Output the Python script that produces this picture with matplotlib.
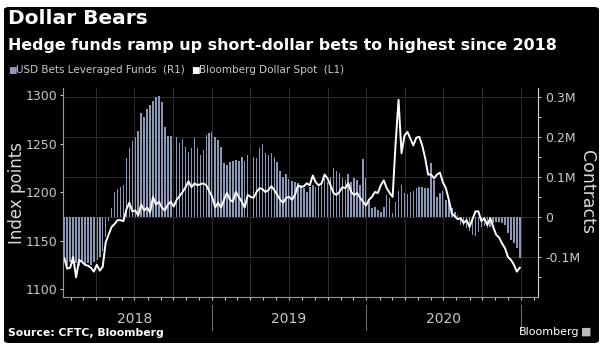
import pandas as pd
import matplotlib
matplotlib.use('Agg')
import matplotlib.pyplot as plt
import matplotlib.dates as mdates
import matplotlib.transforms as mtransforms
from matplotlib.patches import FancyBboxPatch
from matplotlib.ticker import FixedLocator, FuncFormatter

# weekly CFTC positioning, million contracts (R1)
first_week = '2018-01-16'
usd_bets = [
    -0.110, -0.120, -0.112, -0.118, -0.115, -0.122, -0.110, -0.118, -0.115, -0.120,
    -0.112, -0.108, -0.100, -0.085, -0.050, -0.010, 0.022, 0.062, 0.070, 0.075,
    0.080, 0.148, 0.172, 0.190, 0.200, 0.215, 0.260, 0.250, 0.270, 0.280,
    0.290, 0.300, 0.302, 0.288, 0.225, 0.203, 0.203, 0.203, 0.200, 0.185,
    0.195, 0.175, 0.163, 0.172, 0.198, 0.172, 0.155, 0.168, 0.205, 0.210,
    0.213, 0.200, 0.193, 0.175, 0.135, 0.130, 0.138, 0.140, 0.143, 0.140,
    0.150, 0.140, 0.155, 0.143, 0.150, 0.148, 0.172, 0.182, 0.160, 0.155,
    0.160, 0.150, 0.138, 0.115, 0.100, 0.107, 0.095, 0.090, 0.087, 0.085,
    0.080, 0.072, 0.063, 0.075, 0.080, 0.075, 0.080, 0.090, 0.098, 0.088,
    0.100, 0.122, 0.115, 0.110, 0.098, 0.093, 0.107, 0.088, 0.098, 0.093,
    0.080, 0.145, 0.098, 0.043, 0.022, 0.025, 0.018, 0.013, 0.025, 0.055,
    0.047, 0.010, 0.038, 0.065, 0.080, 0.060, 0.058, 0.063, 0.066, 0.072,
    0.075, 0.075, 0.072, 0.072, 0.135, 0.093, 0.050, 0.060, 0.065, 0.043,
    0.043, 0.022, 0.013, 0.005, -0.020, -0.022, -0.028, -0.035, -0.045, -0.048,
    -0.037, -0.025, -0.022, -0.028, -0.025, -0.015, -0.012, -0.012, -0.015, -0.020,
    -0.040, -0.057, -0.065, -0.078, -0.103,
]

# Bloomberg Dollar Spot index, same weeks (L1)
dollar_spot = [
    1132, 1121, 1122, 1133, 1112, 1130, 1128, 1125, 1124, 1122,
    1118, 1125, 1119, 1123, 1148, 1156, 1164, 1167, 1171, 1171,
    1170, 1182, 1189, 1180, 1181, 1176, 1187, 1181, 1184, 1179,
    1195, 1187, 1190, 1184, 1181, 1187, 1190, 1185, 1192, 1196,
    1200, 1205, 1211, 1205, 1209, 1207, 1208, 1209, 1207, 1201,
    1195, 1184, 1189, 1184, 1192, 1199, 1192, 1190, 1200, 1195,
    1190, 1184, 1197, 1195, 1194, 1200, 1204, 1203, 1200, 1202,
    1206, 1202, 1197, 1192, 1189, 1194, 1195, 1192, 1197, 1207,
    1205, 1206, 1209, 1207, 1217, 1210, 1207, 1209, 1218, 1214,
    1207, 1199, 1197, 1200, 1205, 1204, 1209, 1200, 1197, 1199,
    1194, 1190, 1186, 1192, 1195, 1200, 1199, 1207, 1212, 1204,
    1199, 1195, 1250, 1295, 1240, 1258, 1262, 1255, 1248, 1256,
    1257, 1248, 1235, 1218, 1218, 1214, 1218, 1220, 1210, 1204,
    1192, 1178, 1175, 1172, 1173, 1168, 1171, 1164, 1172, 1180,
    1180, 1170, 1173, 1166, 1173, 1164, 1156, 1153, 1147, 1142,
    1133, 1130, 1125, 1118, 1122,
]

years = [2018, 2019, 2020]
left_ticks = [1100, 1150, 1200, 1250, 1300]
right_ticks = [-0.1, 0.0, 0.1, 0.2, 0.3]

weeks = pd.date_range(first_week, periods=len(usd_bets), freq='7D')

bar_col = '#8a99b8'
txt_col = '#c8c8c8'
grid_col = '#2c2c2c'

fig = plt.figure(figsize=(6.02, 3.45), dpi=100, facecolor='white')
fig.patches.append(FancyBboxPatch((4 / 602, 2 / 345), 595 / 602, 336 / 345,
                                  boxstyle='round,pad=0,rounding_size=0.008',
                                  transform=fig.transFigure, facecolor='black',
                                  edgecolor='none', zorder=-5))

ax_line = fig.add_axes([63 / 602, 1 - 297 / 345, 475 / 602, 209 / 345])
ax_bars = ax_line.twinx()
ax_line.set_zorder(ax_bars.get_zorder() + 1)
ax_line.patch.set_visible(False)
ax_bars.set_facecolor('black')

# bars on the right scale
ax_bars.bar(weeks, usd_bets, width=3.6, color=bar_col, zorder=2)
ax_bars.set_ylim(-0.2, 0.3225)
ax_bars.yaxis.set_major_locator(FixedLocator(right_ticks))
ax_bars.yaxis.set_minor_locator(FixedLocator([-0.15, -0.05, 0.05, 0.15, 0.25]))
ax_bars.yaxis.set_major_formatter(FuncFormatter(lambda v, p: '0' if abs(v) < 1e-9 else '%.1fM' % v))
ax_bars.grid(True, axis='y', color=grid_col, linewidth=0.7, zorder=0)
ax_bars.set_ylabel('Contracts', rotation=270, color='#d8d8d8', fontsize=12.5, va='center')
ax_bars.yaxis.set_label_coords(1.103, 0.5)

# dollar spot on the left scale
ax_line.plot(weeks, dollar_spot, color='white', linewidth=1.4)
ax_line.set_ylim(1091.8, 1307.2)
ax_line.yaxis.set_major_locator(FixedLocator(left_ticks))
ax_line.set_ylabel('Index points', color='#d8d8d8', fontsize=12, va='center')
ax_line.yaxis.set_label_coords(-0.097, 0.5)

ax_line.set_xlim(pd.Timestamp('2018-01-13'), pd.Timestamp('2021-02-10'))
ax_line.xaxis.set_major_locator(mdates.MonthLocator(bymonth=[1, 4, 7, 10]))
ax_line.xaxis.set_minor_locator(mdates.MonthLocator())
ax_line.xaxis.set_major_formatter(FuncFormatter(lambda v, p: ''))
ax_line.grid(True, axis='x', color=grid_col, linewidth=0.7)

for a in (ax_line, ax_bars):
    a.tick_params(axis='both', which='both', colors=txt_col, labelsize=9, length=2.5, width=0.8)
    a.tick_params(axis='y', which='minor', length=2)
    a.tick_params(axis='x', which='major', length=2)
    for s in a.spines.values():
        s.set_visible(False)
ax_line.tick_params(axis='y', pad=1.5)
ax_bars.tick_params(axis='y', pad=2.5)
ax_line.spines['left'].set_visible(True)
ax_line.spines['left'].set_color('#9a9a9a')
ax_line.spines['bottom'].set_visible(True)
ax_line.spines['bottom'].set_color('#9a9a9a')
ax_bars.spines['right'].set_visible(True)
ax_bars.spines['right'].set_color('#d8d8d8')

# year labels and separators under the axis
trans = mtransforms.blended_transform_factory(ax_line.transData, ax_line.transAxes)
for yr in years:
    ax_line.text(pd.Timestamp('%d-07-02' % yr), -0.105, str(yr), transform=trans,
                 ha='center', va='center', color=txt_col, fontsize=10)
for yr in years[1:] + [years[-1] + 1]:
    ax_line.plot([pd.Timestamp('%d-01-01' % yr)] * 2, [-0.04, -0.16], transform=trans,
                 color='#6a6a6a', linewidth=0.8, clip_on=False)

fig.text(0.013, 0.946, 'Dollar Bears', color='white', fontsize=14.5, fontweight='bold', va='center')
fig.text(0.013, 0.868, 'Hedge funds ramp up short-dollar bets to highest since 2018',
         color='white', fontsize=11.4, fontweight='bold', va='center')
fig.text(0.014, 0.797, '■', color=bar_col, fontsize=6.5, va='center')
fig.text(0.027, 0.797, 'USD Bets Leveraged Funds  (R1)', color=txt_col, fontsize=7.5, va='center')
fig.text(0.318, 0.797, '■', color='white', fontsize=6.5, va='center')
fig.text(0.331, 0.797, 'Bloomberg Dollar Spot  (L1)', color=txt_col, fontsize=7.5, va='center')
fig.text(0.013, 0.035, 'Source: CFTC, Bloomberg', color='white', fontsize=7.8, fontweight='bold', va='center')
fig.text(0.962, 0.037, 'Bloomberg', color='white', fontsize=8, ha='right', va='center')
fig.text(0.983, 0.039, '■', color='#bbbbbb', fontsize=8, ha='right', va='center')

fig.savefig('out.png', dpi=100, facecolor='white')
